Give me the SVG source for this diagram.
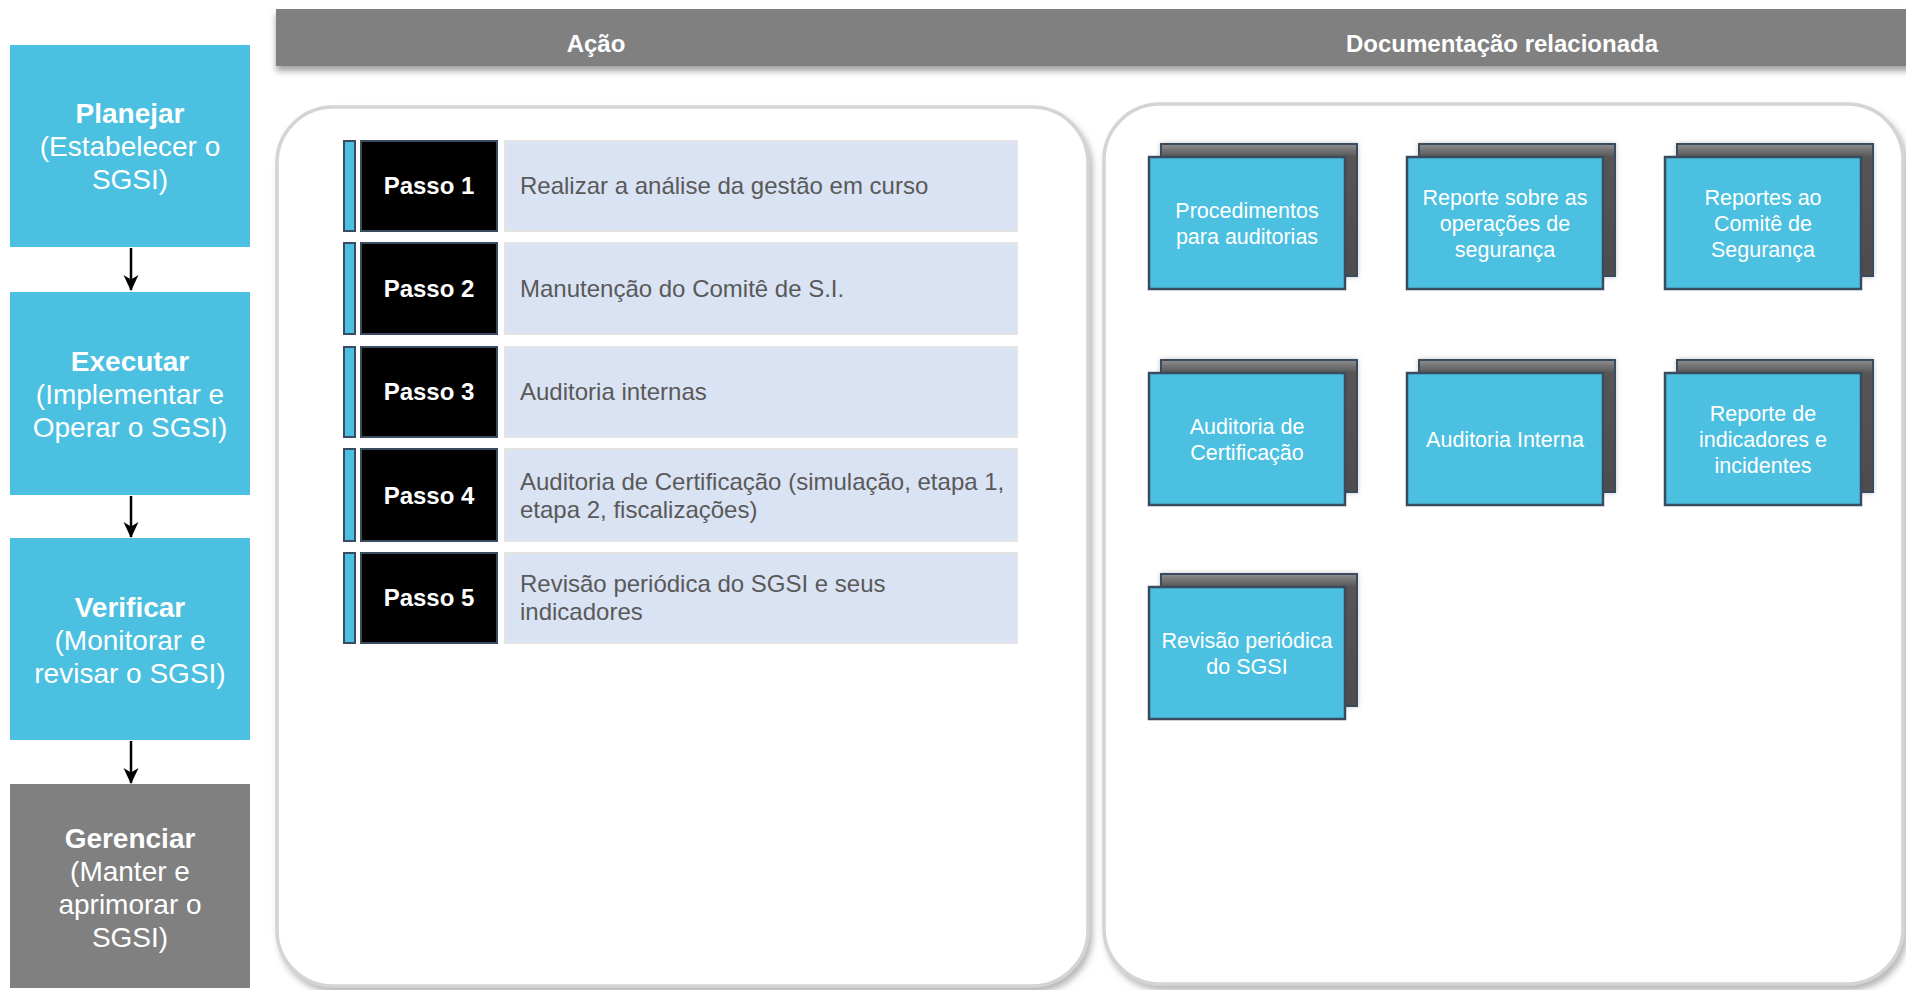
<svg xmlns="http://www.w3.org/2000/svg" width="1906" height="990" viewBox="0 0 1906 990">
<defs>
<style>
.phase{fill:#4bc0e0}
.phase-g{fill:#808080}
.ph-b{font-family:"Liberation Sans",Arial,sans-serif;font-size:28px;font-weight:bold;fill:#fff;text-anchor:middle}
.ph-r{font-family:"Liberation Sans",Arial,sans-serif;font-size:28px;fill:#fff;text-anchor:middle}
.hdr{font-family:"Liberation Sans",Arial,sans-serif;font-size:24px;font-weight:bold;fill:#fff;text-anchor:middle}
.panel{fill:#fff;stroke:#d4d4d4;stroke-width:3.5}
.bar{fill:#4bc0e0;stroke:#3b4b5f;stroke-width:2}
.blk{fill:#000;stroke:#3b4b5f;stroke-width:2}
.lb{fill:#dae3f3;stroke:#e4e4e4;stroke-width:2}
.pt{font-family:"Liberation Sans",Arial,sans-serif;font-size:24px;font-weight:bold;fill:#fff;text-anchor:middle}
.st{font-family:"Liberation Sans",Arial,sans-serif;font-size:24px;fill:#595959}
.back{fill:url(#bg);stroke:#3b4b5f;stroke-width:2}
.front{fill:#4bc0e0;stroke:#3b4b5f;stroke-width:2.5}
.ct{font-family:"Liberation Sans",Arial,sans-serif;font-size:21.5px;fill:#fff;text-anchor:middle}
.conn{stroke:#000;stroke-width:2.5;fill:none}
</style>
<linearGradient id="bg" x1="0" y1="0" x2="0" y2="1">
<stop offset="0" stop-color="#8e8e8e"/>
<stop offset="0.1" stop-color="#555555"/>
<stop offset="1" stop-color="#4d4d4d"/>
</linearGradient>
<filter id="sh" x="-5%" y="-5%" width="110%" height="115%">
<feDropShadow dx="3" dy="5" stdDeviation="3" flood-color="#7f7f7f" flood-opacity="0.55"/>
</filter>
<filter id="hsh" x="-2%" y="-20%" width="104%" height="160%">
<feDropShadow dx="0" dy="5" stdDeviation="3" flood-color="#666" flood-opacity="0.6"/>
</filter>
<filter id="csh" x="-10%" y="-10%" width="120%" height="120%">
<feDropShadow dx="0" dy="0" stdDeviation="2.5" flood-color="#888" flood-opacity="0.5"/>
</filter>
<marker id="ah" markerWidth="16" markerHeight="16" refX="15" refY="8" orient="auto" markerUnits="userSpaceOnUse" viewBox="0 0 16 16">
<path d="M0,0.5 L16,8 L0,15.5 L4.5,8 z" fill="#000"/>
</marker>
</defs>
<rect width="1906" height="990" fill="#fff"/>

<!-- header -->
<g id="header">
<rect x="276" y="9" width="1640" height="57" fill="#808080" filter="url(#hsh)"/>
<text class="hdr" x="596" y="52">Ação</text>
<text class="hdr" x="1502" y="52">Documentação relacionada</text>
</g>

<!-- panels -->
<g id="panel-acao"><rect class="panel" x="277" y="107" width="811" height="879" rx="56" filter="url(#sh)"/></g>
<g id="panel-doc"><rect class="panel" x="1104" y="104" width="799" height="880" rx="56" filter="url(#sh)"/></g>

<!-- left phases -->
<g id="planejar">
<rect class="phase" x="10" y="45" width="240" height="202"/>
<text class="ph-b" x="130" y="123">Planejar</text>
<text class="ph-r" x="130" y="156">(Estabelecer o</text>
<text class="ph-r" x="130" y="189">SGSI)</text>
</g>
<g id="executar">
<rect class="phase" x="10" y="292" width="240" height="203"/>
<text class="ph-b" x="130" y="371">Executar</text>
<text class="ph-r" x="130" y="404">(Implementar e</text>
<text class="ph-r" x="130" y="437">Operar o SGSI)</text>
</g>
<g id="verificar">
<rect class="phase" x="10" y="538" width="240" height="202"/>
<text class="ph-b" x="130" y="617">Verificar</text>
<text class="ph-r" x="130" y="650">(Monitorar e</text>
<text class="ph-r" x="130" y="683">revisar o SGSI)</text>
</g>
<g id="gerenciar">
<rect class="phase-g" x="10" y="784" width="240" height="204"/>
<text class="ph-b" x="130" y="848">Gerenciar</text>
<text class="ph-r" x="130" y="881">(Manter e</text>
<text class="ph-r" x="130" y="914">aprimorar o</text>
<text class="ph-r" x="130" y="947">SGSI)</text>
</g>

<g id="connectors">
<line class="conn" x1="131" y1="248" x2="131" y2="290" marker-end="url(#ah)"/>
<line class="conn" x1="131" y1="496" x2="131" y2="537" marker-end="url(#ah)"/>
<line class="conn" x1="131" y1="741" x2="131" y2="783" marker-end="url(#ah)"/>
</g>

<!-- steps -->
<g id="passo1">
<rect class="bar" x="344" y="141" width="11" height="90"/>
<rect class="blk" x="361" y="141" width="136" height="90"/>
<rect class="lb" x="505" y="141" width="512" height="90"/>
<text class="pt" x="429" y="194">Passo 1</text>
<text class="st" x="520" y="194">Realizar a análise da gestão em curso</text>
</g>
<g id="passo2">
<rect class="bar" x="344" y="243" width="11" height="91"/>
<rect class="blk" x="361" y="243" width="136" height="91"/>
<rect class="lb" x="505" y="243" width="512" height="91"/>
<text class="pt" x="429" y="297">Passo 2</text>
<text class="st" x="520" y="297">Manutenção do Comitê de S.I.</text>
</g>
<g id="passo3">
<rect class="bar" x="344" y="347" width="11" height="90"/>
<rect class="blk" x="361" y="347" width="136" height="90"/>
<rect class="lb" x="505" y="347" width="512" height="90"/>
<text class="pt" x="429" y="400">Passo 3</text>
<text class="st" x="520" y="400">Auditoria internas</text>
</g>
<g id="passo4">
<rect class="bar" x="344" y="449" width="11" height="92"/>
<rect class="blk" x="361" y="449" width="136" height="92"/>
<rect class="lb" x="505" y="449" width="512" height="92"/>
<text class="pt" x="429" y="504">Passo 4</text>
<text class="st" x="520" y="490">Auditoria de Certificação (simulação, etapa 1,</text>
<text class="st" x="520" y="518">etapa 2, fiscalizações)</text>
</g>
<g id="passo5">
<rect class="bar" x="344" y="553" width="11" height="90"/>
<rect class="blk" x="361" y="553" width="136" height="90"/>
<rect class="lb" x="505" y="553" width="512" height="90"/>
<text class="pt" x="429" y="606">Passo 5</text>
<text class="st" x="520" y="592">Revisão periódica do SGSI e seus</text>
<text class="st" x="520" y="620">indicadores</text>
</g>

<!-- documents -->
<g id="doc1">
<rect class="back" x="1161" y="144" width="196" height="132" filter="url(#csh)"/>
<rect class="front" x="1149" y="157" width="196" height="132"/>
<text class="ct" x="1247" y="218">Procedimentos</text>
<text class="ct" x="1247" y="244">para auditorias</text>
</g>
<g id="doc2">
<rect class="back" x="1419" y="144" width="196" height="132" filter="url(#csh)"/>
<rect class="front" x="1407" y="157" width="196" height="132"/>
<text class="ct" x="1505" y="205">Reporte sobre as</text>
<text class="ct" x="1505" y="231">operações de</text>
<text class="ct" x="1505" y="257">segurança</text>
</g>
<g id="doc3">
<rect class="back" x="1677" y="144" width="196" height="132" filter="url(#csh)"/>
<rect class="front" x="1665" y="157" width="196" height="132"/>
<text class="ct" x="1763" y="205">Reportes ao</text>
<text class="ct" x="1763" y="231">Comitê de</text>
<text class="ct" x="1763" y="257">Segurança</text>
</g>
<g id="doc4">
<rect class="back" x="1161" y="360" width="196" height="132" filter="url(#csh)"/>
<rect class="front" x="1149" y="373" width="196" height="132"/>
<text class="ct" x="1247" y="434">Auditoria de</text>
<text class="ct" x="1247" y="460">Certificação</text>
</g>
<g id="doc5">
<rect class="back" x="1419" y="360" width="196" height="132" filter="url(#csh)"/>
<rect class="front" x="1407" y="373" width="196" height="132"/>
<text class="ct" x="1505" y="447">Auditoria Interna</text>
</g>
<g id="doc6">
<rect class="back" x="1677" y="360" width="196" height="132" filter="url(#csh)"/>
<rect class="front" x="1665" y="373" width="196" height="132"/>
<text class="ct" x="1763" y="421">Reporte de</text>
<text class="ct" x="1763" y="447">indicadores e</text>
<text class="ct" x="1763" y="473">incidentes</text>
</g>
<g id="doc7">
<rect class="back" x="1161" y="574" width="196" height="132" filter="url(#csh)"/>
<rect class="front" x="1149" y="587" width="196" height="132"/>
<text class="ct" x="1247" y="648">Revisão periódica</text>
<text class="ct" x="1247" y="674">do SGSI</text>
</g>
</svg>
